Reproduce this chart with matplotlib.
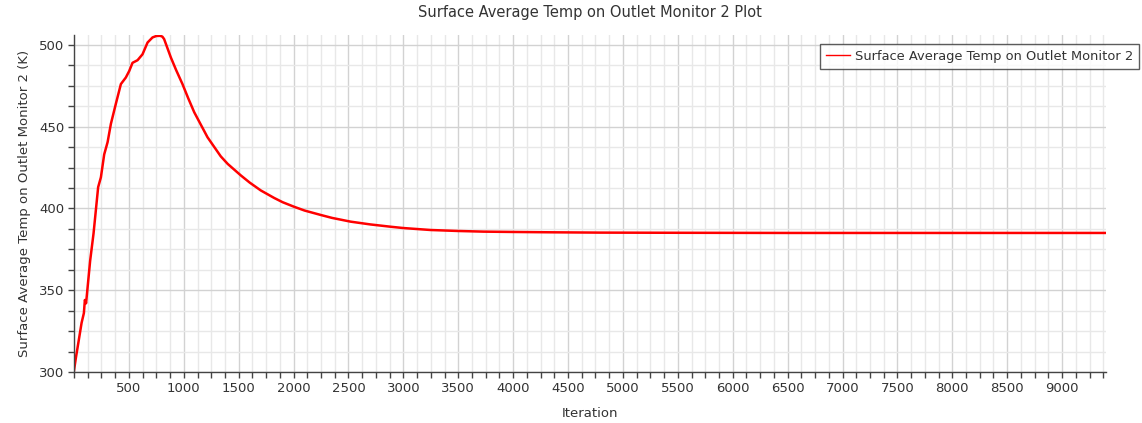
import numpy as np
import matplotlib
matplotlib.use('Agg')
import matplotlib.pyplot as plt
from matplotlib.ticker import MultipleLocator, FixedLocator

# monitor values
iteration = [0, 17, 40, 69, 90, 99, 110, 147, 178, 220, 245, 275, 306, 336, 381,
             427, 472, 503, 533, 579, 624, 670, 715, 750, 785, 805, 821, 882,
             930, 988, 1040, 1095, 1216, 1337, 1400, 1519, 1600, 1701, 1823,
             1900, 2005, 2100, 2247, 2350, 2520, 2700, 2884, 3000, 3248, 3500,
             3731, 4000, 4341, 4796, 5500, 6500, 7500, 8500, 9400]
temp = [301, 308.6, 318, 330, 336, 344, 342, 368, 384.7, 413, 419, 433, 440.5,
        451.7, 463.9, 476, 480, 484, 489, 490.6, 494.2, 501.4, 504.5, 505.4,
        505.5, 505.0, 503.5, 492.3, 484.6, 476, 467.4, 458.8, 443.5, 431.8,
        427.2, 420.2, 415.8, 411, 406.4, 403.8, 401, 398.7, 396, 394.2, 391.9,
        390.2, 388.8, 388.0, 386.8, 386.2, 385.8, 385.6, 385.4, 385.2, 385.1,
        385.0, 385.0, 385.0, 385.0]
x_ticks = [500, 1000, 1500, 2000, 2500, 3000, 3500, 4000, 4500, 5000, 5500,
           6000, 6500, 7000, 7500, 8000, 8500, 9000]
y_ticks = [300, 350, 400, 450, 500]

series_name = 'Surface Average Temp on Outlet Monitor 2'
txt = '#333333'

fig = plt.figure(figsize=(11.42, 4.23), dpi=100)
ax = fig.add_axes([74/1142, 51/423, (1106-74)/1142, (372-35)/423])

ax.plot(iteration, temp, color='#ff0000', lw=1.8, label=series_name,
        solid_joinstyle='round')

ax.set_xlim(0, 9400)
ax.set_ylim(300, 506)
ax.xaxis.set_major_locator(FixedLocator(x_ticks))
ax.xaxis.set_minor_locator(MultipleLocator(125))
ax.yaxis.set_major_locator(FixedLocator(y_ticks))
ax.yaxis.set_minor_locator(MultipleLocator(12.5))

ax.grid(which='major', color='#d2d2d2', lw=1.0)
ax.grid(which='minor', color='#e8e8e8', lw=1.0)
ax.set_axisbelow(True)

for s in ['top', 'right']:
    ax.spines[s].set_visible(False)
for s in ['left', 'bottom']:
    ax.spines[s].set_color('#444444')
    ax.spines[s].set_linewidth(1.0)

ax.tick_params(which='both', direction='out', length=4, width=1,
               color='#444444', labelsize=9.5, labelcolor=txt, pad=3)

ax.set_title('Surface Average Temp on Outlet Monitor 2 Plot', fontsize=10.5,
             color=txt, pad=13)
ax.set_xlabel('Iteration', fontsize=9.5, color=txt, labelpad=9)
ax.set_ylabel('Surface Average Temp on Outlet Monitor 2 (K)', fontsize=9.5,
              color=txt, labelpad=6)

leg = ax.legend(loc='upper right', bbox_to_anchor=(1139/1142, 1 - 44/423),
                bbox_transform=fig.transFigure, fontsize=9.4, frameon=True,
                fancybox=False, edgecolor='#333333', handlelength=1.8,
                handletextpad=0.4, borderpad=0.45, borderaxespad=0)
leg.get_frame().set_linewidth(1.0)
for t in leg.get_texts():
    t.set_color(txt)
for l in leg.get_lines():
    l.set_linewidth(1.0)

plt.savefig('out.png', dpi=100)
